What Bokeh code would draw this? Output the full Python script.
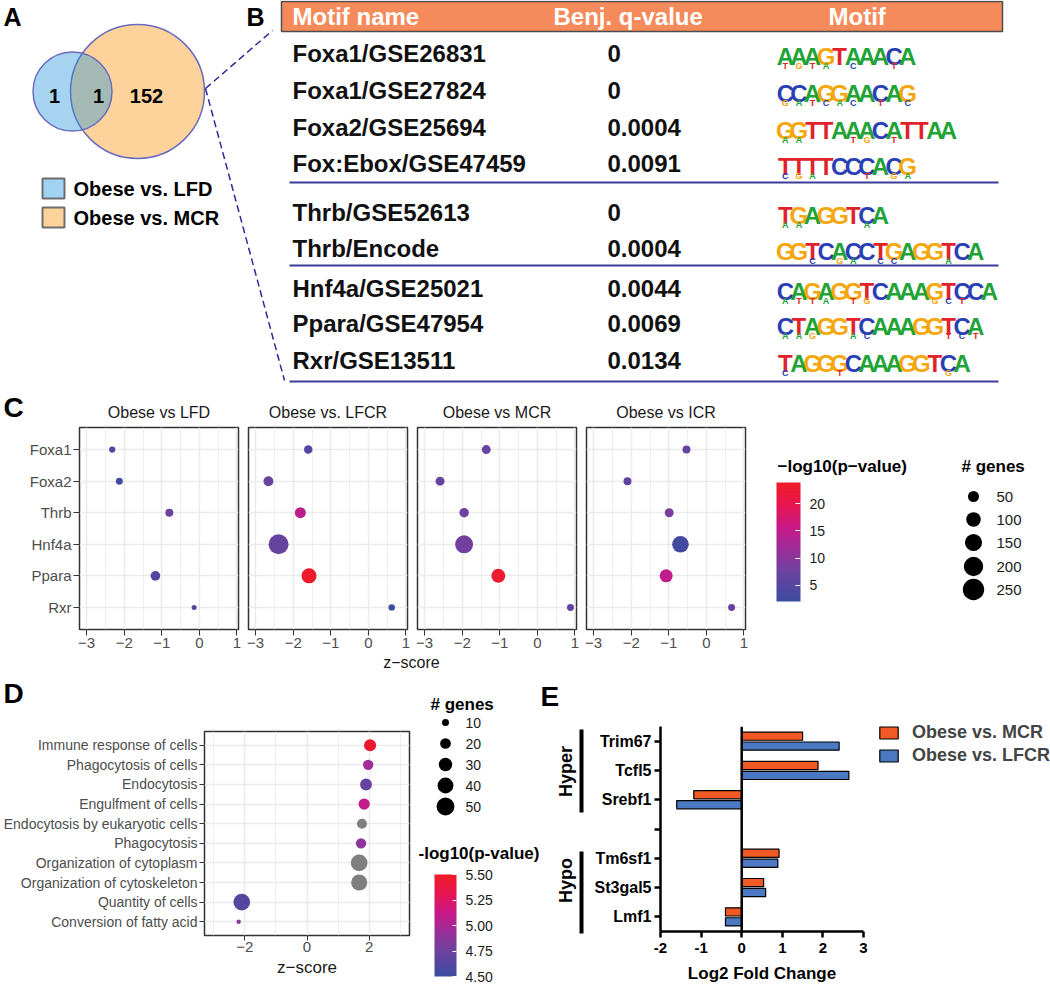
import math
import numpy as np
from bokeh.plotting import figure
from bokeh.layouts import column, row
from bokeh.models import (Range1d, FactorRange, FixedTicker, LinearColorMapper, ColorBar,
                          ColumnDataSource, Legend, LegendItem, Span, PrintfTickFormatter)
from bokeh.transform import dodge, transform
from bokeh.core.properties import value
from bokeh.embed import file_html
from bokeh.resources import INLINE

# ---------------- data ----------------
venn_sets = ["Obese vs. LFD", "Obese vs. MCR"]
venn_counts = [1, 1, 152]          # LFD only, shared, MCR only

motif_header = ["Motif name", "Benj. q-value", "Motif"]
motif_names = ["Foxa1/GSE26831", "Foxa1/GSE27824", "Foxa2/GSE25694", "Fox:Ebox/GSE47459",
               "Thrb/GSE52613", "Thrb/Encode",
               "Hnf4a/GSE25021", "Ppara/GSE47954", "Rxr/GSE13511"]
motif_qvalues = ["0", "0", "0.0004", "0.0091", "0", "0.0004", "0.0044", "0.0069", "0.0134"]
motif_seqs = ["AAAGTAAACA", "CCAGGAACAG", "GGTTAAACATTAA", "TTTTCCCACG",
              "TGAGGTCA", "GGTCACCTGAGGTCA",
              "CAGAGGTCAAAGTCCA", "CTAGGTCAAAGGTCA", "TAGGGCAAAGGTCA"]
# second-ranked base at each logo position ('.' = none visible)
motif_second = ["TGTA.C..T.", "GATCAC.T.C", "AA...TG.T....", "CGA...T.GA",
                "AA....A.", "..C.GA.CC...A..", "ATTA.TG....GCT..",
                "AAG..AC.....TCT", "C...T.......G."]

c_comparisons = ["Obese vs LFD", "Obese vs. LFCR", "Obese vs MCR", "Obese vs ICR"]
c_motifs = ["Foxa1", "Foxa2", "Thrb", "Hnf4a", "Ppara", "Rxr"]
c_z_lfd = [-2.32, -2.13, -0.80, None, -1.17, -0.14]
c_p_lfd = [3.5, 3.0, 7.5, None, 4.5, 5.0]
c_n_lfd = [9, 13, 20, None, 35, 4]
c_z_lfcr = [-1.60, -2.66, -1.81, -2.39, -1.58, 0.62]
c_p_lfcr = [4.5, 7.0, 14.5, 6.5, 23.5, 2.5]
c_n_lfcr = [24, 38, 50, 215, 108, 10]
c_z_mcr = [-1.36, -2.59, -1.95, -1.95, -1.04, 0.88]
c_p_mcr = [7.0, 6.5, 7.5, 8.0, 23.0, 6.5]
c_n_mcr = [28, 28, 33, 168, 92, 13]
c_z_icr = [-0.53, -2.10, -0.99, -0.69, -1.07, 0.67]
c_p_icr = [6.5, 6.0, 9.0, 3.0, 15.0, 6.5]
c_n_icr = [20, 20, 28, 140, 76, 13]
c_size_breaks = [50, 100, 150, 200, 250]
c_color_ticks = [5, 10, 15, 20]

d_terms = ["Immune response of cells", "Phagocytosis of cells", "Endocytosis",
           "Engulfment of cells", "Endocytosis by eukaryotic cells", "Phagocytosis",
           "Organization of cytoplasm", "Organization of cytoskeleton",
           "Quantity of cells", "Conversion of fatty acid"]
d_z = [2.03, 1.97, 1.90, 1.84, 1.77, 1.74, 1.68, 1.68, -2.10, -2.20]
d_p = [5.45, 4.95, 4.70, 5.10, float("nan"), 4.88, float("nan"), float("nan"), 4.62, 4.85]
d_n = [25, 19, 24, 22, 18, 19, 44, 41, 44, 5]
d_size_breaks = [10, 20, 30, 40, 50]
d_color_ticks = [4.50, 4.75, 5.00, 5.25, 5.50]

e_genes = ["Trim67", "Tcfl5", "Srebf1", "Tm6sf1", "St3gal5", "Lmf1"]
e_groups = ["Hyper", "Hyper", "Hyper", "Hypo", "Hypo", "Hypo"]
e_mcr = [1.50, 1.88, -1.18, 0.92, 0.54, -0.40]
e_lfcr = [2.40, 2.64, -1.60, 0.89, 0.59, -0.40]
e_series = ["Obese vs. MCR", "Obese vs. LFCR"]

# ---------------- style ----------------
FONT = "Liberation Sans"
F = value(FONT)
anchors = [(0.0, (59, 76, 160)), (0.25, (110, 66, 160)), (0.45, (158, 46, 152)),
           (0.62, (200, 24, 136)), (0.82, (232, 22, 80)), (1.0, (238, 28, 37))]


def make_palette(n=256):
    out = []
    for i in range(n):
        t = i / (n - 1)
        for (t0, c0), (t1, c1) in zip(anchors[:-1], anchors[1:]):
            if t0 <= t <= t1:
                f = (t - t0) / (t1 - t0)
                c = [round(a + (b - a) * f) for a, b in zip(c0, c1)]
                out.append("#%02x%02x%02x" % tuple(c))
                break
    return out


PAL = make_palette()
LOGO_COL = {"A": "#21a338", "C": "#2a3fb4", "G": "#f5a70f", "T": "#e0232b"}


def size_c(n):
    return 2.7 + 1.18 * math.sqrt(n)


def size_d(n):
    return -1.8 + 2.79 * math.sqrt(n)


def blank(x0, x1, y0, y1, **kw):
    opts = dict(width=x1 - x0, height=y1 - y0, min_border=0)
    opts.update(kw)
    p = figure(x_range=Range1d(x0, x1), y_range=Range1d(y1, y0), output_backend="svg",
               toolbar_location=None, title=None, frame_align=False, **opts)
    p.axis.visible = False
    p.grid.visible = False
    p.outline_line_color = None
    return p


def txt(p, x, y, s, size, bold=False, color="#000000", align="left", baseline="middle", angle=0.0):
    p.text(x=[x], y=[y], text=[s], text_font=F, text_font_size=f"{size}px",
           text_font_style="bold" if bold else "normal", text_color=color,
           text_align=align, text_baseline=baseline, angle=angle)


# ---------------- top: A and B ----------------
top = blank(0, 1050, 0, 424)
txt(top, 3, 16, "A", 25, bold=True)
txt(top, 246, 16, "B", 25, bold=True)

# Venn
top.circle(x=[137], y=[91], radius=67, fill_color="#fdd39b", line_color="#6b6bbf", line_width=1.5)
top.circle(x=[72], y=[91], radius=39.5, fill_color="#2093d9", fill_alpha=0.4,
           line_color="#6b6bbf", line_width=1.5)
txt(top, 54, 95, str(venn_counts[0]), 20, bold=True, align="center")
txt(top, 98, 95, str(venn_counts[1]), 20, bold=True, align="center")
txt(top, 146, 95, str(venn_counts[2]), 20, bold=True, align="center")
top.quad(left=[42, 42], right=[64, 64], top=[178, 207], bottom=[198, 227],
         fill_color=["#a2d2f2", "#fdd39b"], line_color="#6d6d6d", line_width=2)
txt(top, 73, 188, venn_sets[0], 20, bold=True)
txt(top, 73, 217, venn_sets[1], 20, bold=True)

# zoom lines
top.segment(x0=[205, 205], y0=[88, 88], x1=[272, 284], y1=[30, 380],
            line_color="#2b2b99", line_width=1.5, line_dash="7 4")

# table header
top.quad(left=[281], right=[1002], top=[1], bottom=[31], fill_color="#f58a5b",
         line_color="#4d4d4d", line_width=1.5)
for x, s in zip([292, 553, 828], motif_header):
    txt(top, x, 16, s, 24, bold=True, color="#ffffff")

row_y = [53, 90, 127, 163, 212, 248, 288, 323, 360]
top.text(x=[292] * len(motif_names), y=row_y, text=motif_names, text_font=F,
         text_font_size="24px", text_font_style="bold", text_color="#111111",
         text_baseline="middle")
top.text(x=[607] * len(motif_qvalues), y=row_y, text=motif_qvalues, text_font=F,
         text_font_size="24px", text_font_style="bold", text_color="#111111",
         text_baseline="middle")
top.segment(x0=[289, 289, 289], y0=[182, 265, 381], x1=[998, 998, 998], y1=[182, 265, 381],
            line_color="#3d3d99", line_width=2)

# motif logos: main letters and smaller second-ranked letters beneath
lx, ly, lt, lc = [], [], [], []
sx, sy, st, sc = [], [], [], []
for seq, sec, yy in zip(motif_seqs, motif_second, row_y):
    for j, ch in enumerate(seq):
        xc = 778 + j * 13.6 + 6.8
        lx.append(xc)
        ly.append(yy + 3)
        lt.append(ch)
        lc.append(LOGO_COL[ch])
        s2 = sec[j]
        if s2 != ".":
            sx.append(xc)
            sy.append(yy + 12)
            st.append(s2)
            sc.append(LOGO_COL[s2])
top.text(x=lx, y=ly, text=lt, text_color=lc, text_font=F, text_font_size="24px",
         text_font_style="bold", text_align="center", text_baseline="alphabetic")
top.text(x=sx, y=sy, text=st, text_color=sc, text_font=F, text_font_size="9px",
         text_font_style="bold", text_align="center", text_baseline="alphabetic")

# facet titles for C
txt(top, 3, 407, "C", 28, bold=True)
for cx, s in zip([158.5, 327.5, 496.5, 665.5], c_comparisons):
    txt(top, cx, 412, s, 16, color="#1a1a1a", align="center")

# ---------------- C panels ----------------
mapper_c = LinearColorMapper(palette=PAL, low=2.0, high=23.9)
c_data = [(c_z_lfd, c_p_lfd, c_n_lfd), (c_z_lfcr, c_p_lfcr, c_n_lfcr),
          (c_z_mcr, c_p_mcr, c_n_mcr), (c_z_icr, c_p_icr, c_n_icr)]
minus = {-3: "\u22123", -2: "\u22122", -1: "\u22121", 0: "0", 1: "1", 2: "2", 3: "3"}
c_figs = []
for i, (zs, ps, ns) in enumerate(c_data):
    p = figure(frame_width=159, frame_height=202, x_range=Range1d(-3.19, 1.04),
               y_range=FactorRange(factors=list(reversed(c_motifs)), range_padding=0.2,
                                   range_padding_units="absolute"),
               min_border_left=79 if i == 0 else 5, min_border_right=5,
               min_border_top=3, min_border_bottom=26, frame_align=False,
               output_backend="svg", toolbar_location=None, title=None)
    keep = [k for k in range(len(c_motifs)) if zs[k] is not None]
    src = ColumnDataSource(dict(
        motif=[c_motifs[k] for k in keep], z=[zs[k] for k in keep],
        p=[ps[k] for k in keep], d=[size_c(ns[k]) for k in keep]))
    p.scatter(x="z", y="motif", size="d", source=src, fill_color=transform("p", mapper_c),
              line_color=None)
    tk = FixedTicker(ticks=[-3, -2, -1, 0, 1], minor_ticks=[-2.5, -1.5, -0.5, 0.5])
    p.xaxis.ticker = tk
    p.xgrid.ticker = tk
    p.xaxis.major_label_overrides = minus
    p.axis.major_label_text_font = FONT
    p.axis.major_label_text_font_size = "15px"
    p.axis.major_label_text_color = "#4d4d4d"
    p.axis.major_tick_out = 6
    p.axis.major_tick_in = 0
    p.axis.major_tick_line_color = "#333333"
    p.axis.minor_tick_line_color = None
    p.axis.axis_line_color = None
    p.axis.major_label_standoff = 2
    p.xgrid.grid_line_color = "#ebebeb"
    p.xgrid.grid_line_width = 1.5
    p.xgrid.minor_grid_line_color = "#ebebeb"
    p.xgrid.minor_grid_line_width = 0.8
    p.ygrid.grid_line_color = "#ebebeb"
    p.ygrid.grid_line_width = 1.5
    p.outline_line_color = "#333333"
    p.outline_line_width = 1.5
    if i > 0:
        p.yaxis.visible = False
    c_figs.append(p)

# C legends (frame matches the panels' frame: y 427..629)
cleg = blank(750, 1050, 427, 629, width=None, height=None, frame_width=300, frame_height=202,
             min_border_top=3, min_border_bottom=26)
txt(cleg, 777, 466, "\u2212log10(p\u2212value)", 17, bold=True)
cb_c = ColorBar(color_mapper=mapper_c, location=(26, 28), width=24, height=119,
                ticker=FixedTicker(ticks=c_color_ticks), major_label_text_font=FONT,
                major_label_text_font_size="14px", major_label_text_color="#1a1a1a",
                major_tick_line_color="white", major_tick_in=5, major_tick_out=0,
                label_standoff=9, bar_line_color=None, border_line_color=None,
                background_fill_alpha=0, padding=0, margin=0, title=None)
cleg.add_layout(cb_c)
txt(cleg, 961, 466, "# genes", 17, bold=True)
cy = [496, 519, 542, 566, 589]
cleg.scatter(x=[973] * 5, y=cy, size=[size_c(n) for n in c_size_breaks], fill_color="black",
             line_color=None)
cleg.text(x=[996] * 5, y=cy, text=[str(n) for n in c_size_breaks], text_font=F,
          text_font_size="15px", text_color="#1a1a1a", text_baseline="middle")

# ---------------- strip ----------------
strip = blank(0, 1050, 655, 716)
txt(strip, 411, 662, "z\u2212score", 16, color="#1a1a1a", align="center")
txt(strip, 3, 693, "D", 28, bold=True)
txt(strip, 540, 696, "E", 28, bold=True)
txt(strip, 430, 704, "# genes", 17, bold=True)

# ---------------- D ----------------
mapper_d = LinearColorMapper(palette=PAL, low=4.5, high=5.5, nan_color="#7f7f7f")
pd_ = figure(frame_width=205, frame_height=204, x_range=Range1d(-3.3, 3.3),
             y_range=FactorRange(factors=list(reversed(d_terms)), range_padding=0.2,
                                 range_padding_units="absolute"),
             min_border_left=200, min_border_right=5, min_border_top=15, min_border_bottom=51,
             frame_align=False, output_backend="svg", toolbar_location=None, title=None)
srcd = ColumnDataSource(dict(term=d_terms, z=d_z, p=np.array(d_p),
                             d=[size_d(n) for n in d_n]))
pd_.scatter(x="z", y="term", size="d", source=srcd, fill_color=transform("p", mapper_d),
            line_color=None)
tkd = FixedTicker(ticks=[-2, 0, 2], minor_ticks=[-3, -1, 1, 3])
pd_.xaxis.ticker = tkd
pd_.xgrid.ticker = tkd
pd_.xaxis.major_label_overrides = minus
pd_.axis.major_label_text_font = FONT
pd_.xaxis.major_label_text_font_size = "15px"
pd_.yaxis.major_label_text_font_size = "14px"
pd_.axis.major_label_text_color = "#4d4d4d"
pd_.axis.major_tick_out = 5
pd_.axis.major_tick_in = 0
pd_.axis.major_tick_line_color = "#333333"
pd_.axis.minor_tick_line_color = None
pd_.axis.axis_line_color = None
pd_.xaxis.major_label_standoff = 1
pd_.yaxis.major_label_standoff = 2
pd_.xaxis.axis_label = "z\u2212score"
pd_.xaxis.axis_label_text_font = FONT
pd_.xaxis.axis_label_text_font_size = "17px"
pd_.xaxis.axis_label_text_font_style = "normal"
pd_.xaxis.axis_label_text_color = "#1a1a1a"
pd_.xaxis.axis_label_standoff = 3
pd_.xgrid.grid_line_color = "#ebebeb"
pd_.xgrid.grid_line_width = 1.5
pd_.xgrid.minor_grid_line_color = "#ebebeb"
pd_.xgrid.minor_grid_line_width = 0.8
pd_.ygrid.grid_line_color = "#ebebeb"
pd_.ygrid.grid_line_width = 1.5
pd_.outline_line_color = "#333333"
pd_.outline_line_width = 1.5

# ---------------- middle: D legends + E group labels ----------------
mid = blank(410, 583, 716, 986)
dy = [722, 743, 764, 785, 806]
mid.scatter(x=[441] * 5, y=dy, size=[size_d(n) for n in d_size_breaks], fill_color="black",
            line_color=None)
mid.text(x=[461] * 5, y=dy, text=[str(n) for n in d_size_breaks], text_font=F,
         text_font_size="14px", text_color="#1a1a1a", text_baseline="middle")
txt(mid, 414, 853, "-log10(p-value)", 17, bold=True)
cb_d = ColorBar(color_mapper=mapper_d, location=(20, 10), width=22, height=102,
                ticker=FixedTicker(ticks=d_color_ticks), formatter=PrintfTickFormatter(format="%.2f"),
                major_label_text_font=FONT, major_label_text_font_size="14px",
                major_label_text_color="#1a1a1a", major_tick_line_color="white",
                major_tick_in=4, major_tick_out=0, label_standoff=9, bar_line_color=None,
                border_line_color=None, background_fill_alpha=0, padding=0, margin=0, title=None)
mid.add_layout(cb_d)
groups = []
for g in e_groups:
    if g not in groups:
        groups.append(g)
for g, cyy, y0, y1 in zip(groups, [771, 880], [729, 851], [812, 933]):
    txt(mid, 561, cyy, g, 18, bold=True, align="center", angle=math.pi / 2)
    mid.segment(x0=[577], y0=[y0], x1=[577], y1=[y1], line_color="black", line_width=4)

# ---------------- E ----------------
e_factors = []
for k, (gname, gene) in enumerate(zip(e_groups, e_genes)):
    if k > 0 and e_groups[k - 1] != gname:
        e_factors.append(" ")
    e_factors.append(gene)
pe = figure(frame_width=203, frame_height=205, x_range=Range1d(-2, 3),
            y_range=FactorRange(factors=list(reversed(e_factors))),
            min_border_left=73, min_border_right=191, min_border_top=10, min_border_bottom=55,
            frame_align=False, output_backend="svg", toolbar_location=None, title=None)
srce = ColumnDataSource(dict(gene=e_genes, mcr=e_mcr, lfcr=e_lfcr))
r1 = pe.hbar(y=dodge("gene", 0.17, range=pe.y_range), left=0, right="mcr", height=0.28,
             source=srce, fill_color="#f15a24", line_color="black", line_width=1.2)
r2 = pe.hbar(y=dodge("gene", -0.17, range=pe.y_range), left=0, right="lfcr", height=0.28,
             source=srce, fill_color="#4a78c2", line_color="black", line_width=1.2)
pe.add_layout(Span(location=0, dimension="height", line_color="black", line_width=2.5))
pe.xaxis.ticker = FixedTicker(ticks=[-2, -1, 0, 1, 2, 3])
pe.xaxis.major_label_overrides = {-2: "-2", -1: "-1", 0: "0", 1: "1", 2: "2", 3: "3"}
pe.axis.major_label_text_font = FONT
pe.axis.major_label_text_font_style = "bold"
pe.axis.major_label_text_color = "black"
pe.xaxis.major_label_text_font_size = "15px"
pe.yaxis.major_label_text_font_size = "16px"
pe.axis.axis_line_color = "black"
pe.axis.axis_line_width = 2.5
pe.axis.major_tick_line_color = "black"
pe.axis.major_tick_line_width = 2.5
pe.axis.major_tick_out = 6
pe.axis.major_tick_in = 0
pe.axis.minor_tick_line_color = None
pe.xaxis.major_label_standoff = 5
pe.yaxis.major_label_standoff = 3
pe.xaxis.axis_label = "Log2 Fold Change"
pe.xaxis.axis_label_text_font = FONT
pe.xaxis.axis_label_text_font_size = "17px"
pe.xaxis.axis_label_text_font_style = "bold"
pe.xaxis.axis_label_text_color = "black"
pe.xaxis.axis_label_standoff = 8
pe.grid.visible = False
pe.outline_line_color = None
leg = Legend(items=[LegendItem(label=e_series[0], renderers=[r1]),
                    LegendItem(label=e_series[1], renderers=[r2])],
             location=(14, 165), label_text_font=FONT, label_text_font_size="18px",
             label_text_font_style="bold", glyph_width=23, glyph_height=15, label_height=20,
             spacing=2, padding=0, margin=0, border_line_color=None,
             background_fill_alpha=0, label_standoff=12)
pe.add_layout(leg, "right")

layout = column(top, row(*c_figs, cleg), strip, row(pd_, mid, pe))
open("out.html", "w").write(file_html(layout, INLINE))
